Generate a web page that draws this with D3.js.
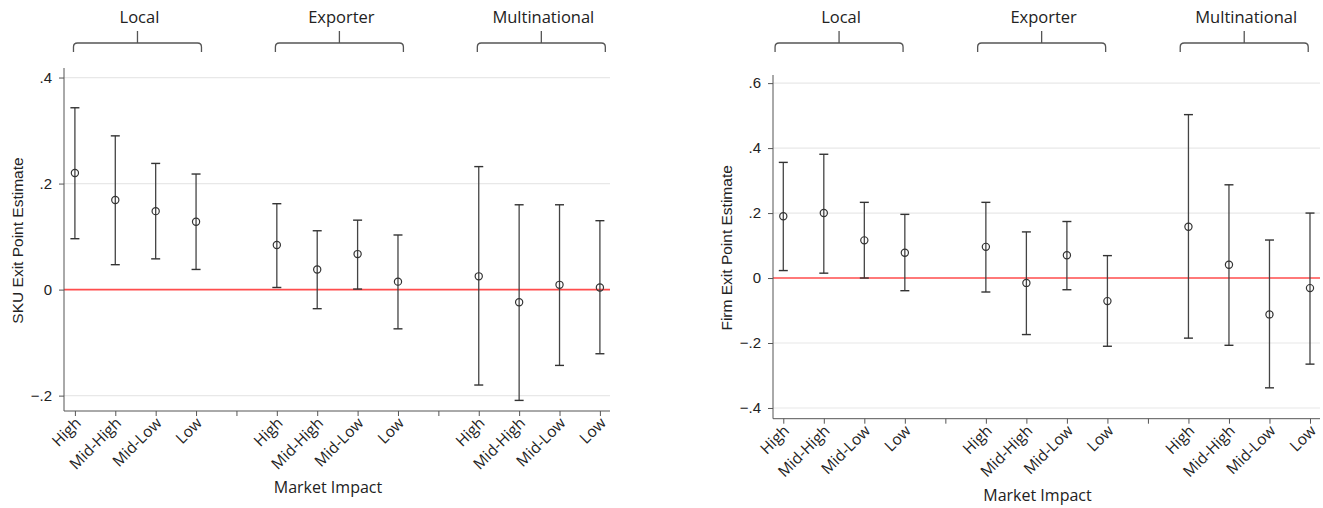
<!DOCTYPE html>
<html>
<head>
<meta charset="utf-8">
<script src="https://cdn.jsdelivr.net/npm/d3@7"></script>
<style>
  body { margin: 0; background: #fff; }
  svg { display: block; }
  .tick-y { font-family: "Liberation Sans", Arial, sans-serif; font-size: 15px; fill: #222; }
  .ytitle { font-family: "Liberation Sans", Arial, sans-serif; font-size: 15.5px; fill: #222; }
  .tick-x, .xtitle, .group { font-family: "Open Sans", sans-serif; fill: #222; }
</style>
</head>
<body>
<svg width="1323" height="508"></svg>
<script>
// categories
let groups = ["Local", "Exporter", "Multinational"];
let impacts = ["High", "Mid-High", "Mid-Low", "Low"];

// SKU exit (left panel): point estimates and CI bounds, group by group
let skuEst = [0.22, 0.169, 0.148, 0.128, 0.084, 0.038, 0.067, 0.015, 0.025, -0.024, 0.009, 0.004];
let skuLo = [0.096, 0.047, 0.058, 0.038, 0.004, -0.036, 0.001, -0.074, -0.180, -0.209, -0.143, -0.121];
let skuHi = [0.343, 0.290, 0.238, 0.218, 0.162, 0.111, 0.131, 0.103, 0.232, 0.160, 0.160, 0.130];
let skuTicks = [-0.2, 0, 0.2, 0.4];

// Firm exit (right panel)
let firmEst = [0.19, 0.20, 0.116, 0.078, 0.096, -0.015, 0.07, -0.071, 0.158, 0.041, -0.112, -0.031];
let firmLo = [0.023, 0.015, 0.0, -0.039, -0.043, -0.174, -0.036, -0.210, -0.185, -0.207, -0.338, -0.265];
let firmHi = [0.356, 0.381, 0.233, 0.196, 0.233, 0.142, 0.174, 0.069, 0.503, 0.287, 0.117, 0.200];
let firmTicks = [-0.4, -0.2, 0, 0.2, 0.4, 0.6];

let svg = d3.select("svg");

let panels = [
    {est: skuEst, lo: skuLo, hi: skuHi, ticks: skuTicks, title: "SKU Exit Point Estimate",
     left: 64, right: 610, top: 68, bottom: 411, yDom: [-0.229, 0.418], xDom: [-0.27, 13.25],
     titleX: 18, bracketShift: 2},
    {est: firmEst, lo: firmLo, hi: firmHi, ticks: firmTicks, title: "Firm Exit Point Estimate",
     left: 773, right: 1320, top: 75, bottom: 418.7, yDom: [-0.433, 0.625], xDom: [-0.254, 13.247],
     titleX: 727, bracketShift: -5}
];

let fmt = v => v === 0 ? "0" : d3.format(".1f")(v).replace("0.", ".");

panels.forEach(p => {
    let x = d3.scaleLinear().domain(p.xDom).range([p.left, p.right]);
    let y = d3.scaleLinear().domain(p.yDom).range([p.bottom, p.top]);
    let g = svg.append("g");

    // flat list of points
    let pts = [];
    groups.forEach((grp, gi) => impacts.forEach((imp, ii) => {
        let k = gi * 4 + ii;
        pts.push({pos: gi * 5 + ii, label: imp, est: p.est[k], lo: p.lo[k], hi: p.hi[k]});
    }));

    // gridlines
    g.selectAll(".grid").data(p.ticks.filter(t => t !== 0)).enter().append("line")
        .attr("x1", p.left).attr("x2", p.right)
        .attr("y1", d => y(d)).attr("y2", d => y(d))
        .attr("stroke", "#e8e8e8").attr("stroke-width", 1.2);

    // zero reference line
    g.append("line")
        .attr("x1", p.left).attr("x2", p.right)
        .attr("y1", y(0)).attr("y2", y(0))
        .attr("stroke", "#ff4d4d").attr("stroke-width", 1.6);

    // y axis
    let yAxis = g.append("g")
        .attr("transform", "translate(" + p.left + ",0)")
        .call(d3.axisLeft(y).tickValues(p.ticks).tickFormat(fmt).tickSize(5).tickPadding(7));
    yAxis.select(".domain").attr("stroke", "#555").attr("d", "M0," + p.top + "V" + p.bottom);
    yAxis.selectAll(".tick line").attr("stroke", "#555");
    yAxis.selectAll("text").attr("class", "tick-y").attr("font-family", null).attr("font-size", null);

    // x axis: ticks at every slot including the spacers between groups
    let slots = d3.range(0, 14);
    let xAxis = g.append("g")
        .attr("transform", "translate(0," + p.bottom + ")")
        .call(d3.axisBottom(x).tickValues(slots).tickFormat("").tickSize(5));
    xAxis.select(".domain").attr("stroke", "#555").attr("d", "M" + p.left + ",0H" + p.right);
    xAxis.selectAll(".tick line").attr("stroke", "#555");

    g.selectAll(".xl").data(pts).enter().append("text")
        .attr("class", "tick-x")
        .attr("font-size", 15.5)
        .attr("text-anchor", "end")
        .attr("transform", d => "translate(" + (x(d.pos) + 7) + "," + (p.bottom + 13) + ") rotate(-45)")
        .text(d => d.label);

    g.append("text").attr("class", "xtitle")
        .attr("font-size", 16)
        .attr("text-anchor", "middle")
        .attr("x", (p.left + p.right) / 2 - 9).attr("y", p.bottom + 82)
        .text("Market Impact");

    g.append("text").attr("class", "ytitle")
        .attr("text-anchor", "middle")
        .attr("transform", "translate(" + (p.titleX + 5) + "," + ((p.top + p.bottom) / 2 + 1) + ") rotate(-90)")
        .text(p.title);

    // error bars
    let bars = g.selectAll(".bar").data(pts).enter().append("g");
    bars.append("line")
        .attr("x1", d => x(d.pos)).attr("x2", d => x(d.pos))
        .attr("y1", d => y(d.lo)).attr("y2", d => y(d.hi))
        .attr("stroke", "#444").attr("stroke-width", 1.3);
    [["lo"], ["hi"]].forEach(([k]) => {
        bars.append("line")
            .attr("x1", d => x(d.pos) - 4.5).attr("x2", d => x(d.pos) + 4.5)
            .attr("y1", d => y(d[k])).attr("y2", d => y(d[k]))
            .attr("stroke", "#333").attr("stroke-width", 1.4);
    });
    bars.append("circle")
        .attr("cx", d => x(d.pos)).attr("cy", d => y(d.est)).attr("r", 3.6)
        .attr("fill", "none").attr("stroke", "#333").attr("stroke-width", 1.2);

    // group brackets above the panel
    let half = 64;
    groups.forEach((grp, gi) => {
        let c = x(gi * 5 + 1.5) + p.bracketShift;
        let L = c - half, R = c + half;
        g.append("path")
            .attr("d", "M" + L + ",52V47Q" + L + ",43 " + (L + 4) + ",43H" + (R - 4) + "Q" + R + ",43 " + R + ",47V52"
                + "M" + c + ",43V31")
            .attr("fill", "none").attr("stroke", "#555").attr("stroke-width", 1.3);
        g.append("text").attr("class", "group")
            .attr("font-size", 16.5)
            .attr("text-anchor", "middle")
            .attr("x", c + 2).attr("y", 23)
            .text(grp);
    });
});
</script>
</body>
</html>
